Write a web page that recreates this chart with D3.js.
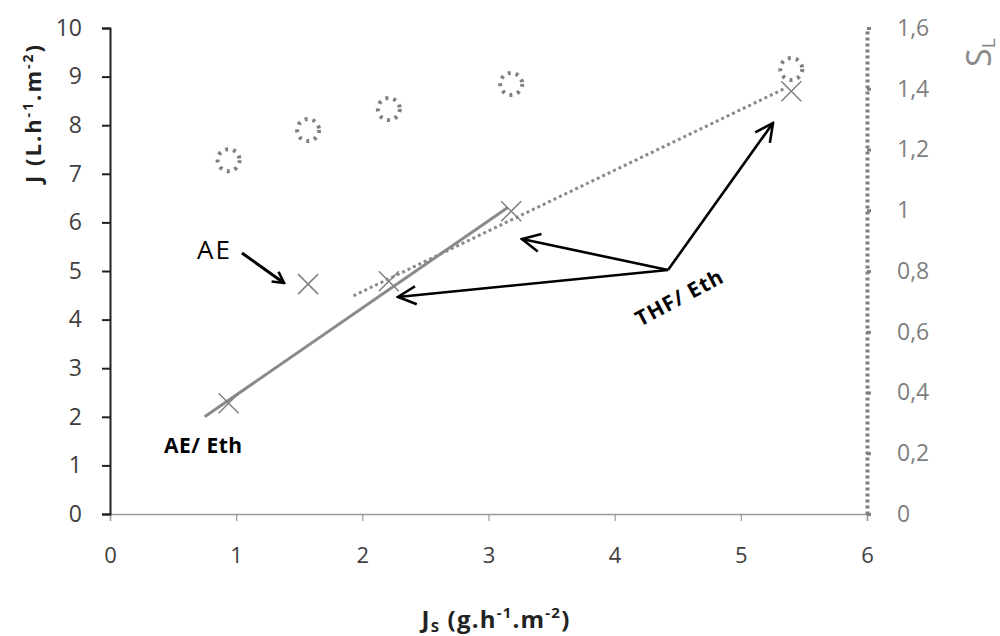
<!DOCTYPE html>
<html><head><meta charset="utf-8">
<script src="https://cdn.jsdelivr.net/npm/d3@7"></script>
<style>body{margin:0;background:#fff}svg{display:block}</style>
</head><body>
<svg id="c" width="1000" height="636"></svg>
<script>
// Data
const xTicks = [0,1,2,3,4,5,6];
const yTicks = [0,1,2,3,4,5,6,7,8,9,10];
const y2Ticks = [0,0.2,0.4,0.6,0.8,1,1.2,1.4,1.6];
const y2TickLabels = ["0","0,2","0,4","0,6","0,8","1","1,2","1,4","1,6"];
const jsValues = [0.94, 1.57, 2.21, 3.18, 5.40];
const jValues = [2.28, 4.73, 4.79, 6.23, 8.70];
const slValues = [1.165, 1.264, 1.333, 1.416, 1.465];
const trendAEEth = [[0.75, 2.0], [3.15, 6.30]];
const trendTHFEth = [[1.93, 4.49], [5.36, 8.77]];

const svg = d3.select("#c");
const x = d3.scaleLinear().domain([0,6]).range([110,867]);
const y = d3.scaleLinear().domain([0,10]).range([514,28]);
const y2 = d3.scaleLinear().domain([0,1.6]).range([514,28]);
const font = "'Open Sans', sans-serif";

// bottom axis
const gx = svg.append("g").attr("transform","translate(0,514)")
  .call(d3.axisBottom(x).tickValues(xTicks).tickSize(7).tickPadding(26).tickFormat(d3.format("d")));
gx.attr("font-size",null).attr("font-family",null);
gx.select(".domain").attr("stroke","#9a9a9a").attr("stroke-width",1.5);
gx.selectAll(".tick line").attr("stroke","#9a9a9a").attr("stroke-width",1.2);
gx.selectAll("text").attr("font-family",font).attr("font-size",22).attr("fill","#404040");

// left axis
const gy = svg.append("g").attr("transform","translate(110,0)")
  .call(d3.axisLeft(y).tickValues(yTicks).tickSize(8).tickSizeOuter(8).tickPadding(20));
gy.attr("font-size",null).attr("font-family",null);
gy.select(".domain").attr("stroke","#222").attr("stroke-width",2);
gy.selectAll(".tick line").attr("stroke","#222").attr("stroke-width",2);
gy.selectAll("text").attr("font-family",font).attr("font-size",23).attr("fill","#404040");

// right axis
const gy2 = svg.append("g").attr("transform","translate(867,0)")
  .call(d3.axisRight(y2).tickValues(y2Ticks).tickSize(4).tickSizeOuter(0).tickPadding(26)
    .tickFormat((d,i)=>y2TickLabels[i]));
gy2.attr("font-size",null).attr("font-family",null);
gy2.select(".domain").attr("stroke","#808080").attr("stroke-width",4).attr("stroke-dasharray","3,3");
gy2.selectAll(".tick line").attr("stroke","#808080").attr("stroke-width",3);
gy2.selectAll("text").attr("font-family",font).attr("font-size",23).attr("fill","#7f7f7f");

// trend lines
const line = d3.line().x(d=>x(d[0])).y(d=>y(d[1]));
svg.append("path").attr("d",line(trendAEEth)).attr("fill","none")
  .attr("stroke","#8a8a8a").attr("stroke-width",3);
svg.append("path").attr("d",line(trendTHFEth)).attr("fill","none")
  .attr("stroke","#8a8a8a").attr("stroke-width",3).attr("stroke-dasharray","3,3");

// X markers
const ms = 10;
const mg = svg.append("g");
jsValues.forEach((v,i)=>{
  const cx = x(v), cy = y(jValues[i]);
  mg.append("path").attr("d",`M${cx-ms},${cy-ms}L${cx+ms},${cy+ms}M${cx-ms},${cy+ms}L${cx+ms},${cy-ms}`)
    .attr("stroke","#808080").attr("stroke-width",1.5).attr("fill","none");
});

// dotted circles (secondary axis)
svg.append("g").selectAll("circle").data(jsValues).join("circle")
  .attr("cx",d=>x(d)).attr("cy",(d,i)=>y2(slValues[i])).attr("r",11)
  .attr("fill","none").attr("stroke","#808080").attr("stroke-width",4)
  .attr("stroke-dasharray","3,5");

// annotations
const defs = svg.append("defs");
defs.append("marker").attr("id","ah").attr("viewBox","0 0 14 14").attr("refX",12).attr("refY",7)
  .attr("markerWidth",14).attr("markerHeight",14).attr("markerUnits","userSpaceOnUse").attr("orient","auto")
  .append("path").attr("d","M1,1L12,7L1,13").attr("fill","none").attr("stroke","#000").attr("stroke-width",2.6);
defs.append("marker").attr("id","ah2").attr("viewBox","0 0 22 22").attr("refX",20).attr("refY",11)
  .attr("markerWidth",22).attr("markerHeight",22).attr("markerUnits","userSpaceOnUse").attr("orient","auto")
  .append("path").attr("d","M2,2L20,11L2,20").attr("fill","none").attr("stroke","#000").attr("stroke-width",2.6);

svg.append("line").attr("x1",242).attr("y1",253).attr("x2",284).attr("y2",283)
  .attr("stroke","#000").attr("stroke-width",3).attr("marker-end","url(#ah)");
svg.append("text").attr("x",197).attr("y",259).text("AE").attr("letter-spacing",2)
  .attr("font-family",font).attr("font-size",26).attr("fill","#000");

const vx = 668, vy = 270;
[[398,297],[522,239],[773,123]].forEach(t=>{
  svg.append("line").attr("x1",vx).attr("y1",vy).attr("x2",t[0]).attr("y2",t[1])
    .attr("stroke","#000").attr("stroke-width",2.6).attr("marker-end","url(#ah2)");
});
svg.append("text").attr("transform","translate(683,304) rotate(-28)").attr("text-anchor","middle")
  .text("THF/ Eth").attr("letter-spacing",1)
  .attr("font-family",font).attr("font-size",21).attr("font-weight","bold").attr("fill","#000");
svg.append("text").attr("x",164).attr("y",453).text("AE/ Eth").attr("letter-spacing",0.5)
  .attr("font-family",font).attr("font-size",21).attr("font-weight","bold").attr("fill","#000");

// axis titles
const yt = svg.append("text").attr("transform","translate(41,113) rotate(-90)").attr("text-anchor","middle")
  .attr("font-family",font).attr("font-size",22).attr("font-weight","bold").attr("fill","#222")
  .attr("letter-spacing",2);
yt.append("tspan").text("J (L.h");
yt.append("tspan").text("-1").attr("font-size",14).attr("dy",-8);
yt.append("tspan").text(".m").attr("font-size",22).attr("dy",8);
yt.append("tspan").text("-2").attr("font-size",14).attr("dy",-8);
yt.append("tspan").text(")").attr("font-size",22).attr("dy",8);

const xt = svg.append("text").attr("transform","translate(496,628)").attr("text-anchor","middle")
  .attr("font-family",font).attr("font-size",24).attr("font-weight","bold").attr("fill","#222")
  .attr("letter-spacing",1.2);
xt.append("tspan").text("J");
xt.append("tspan").text("S").attr("font-size",15).attr("dy",4);
xt.append("tspan").text(" (g.h").attr("font-size",24).attr("dy",-4);
xt.append("tspan").text("-1").attr("font-size",15).attr("dy",-10);
xt.append("tspan").text(".m").attr("font-size",24).attr("dy",10);
xt.append("tspan").text("-2").attr("font-size",15).attr("dy",-10);
xt.append("tspan").text(")").attr("font-size",24).attr("dy",10);

const st = svg.append("text").attr("transform","translate(991,67) rotate(-90)").attr("text-anchor","start")
  .attr("font-family",font).attr("font-size",34).attr("fill","#8a8a8a");
st.append("tspan").text("S");
st.append("tspan").text("L").attr("font-size",19).attr("dy",4);
</script>
</body></html>
